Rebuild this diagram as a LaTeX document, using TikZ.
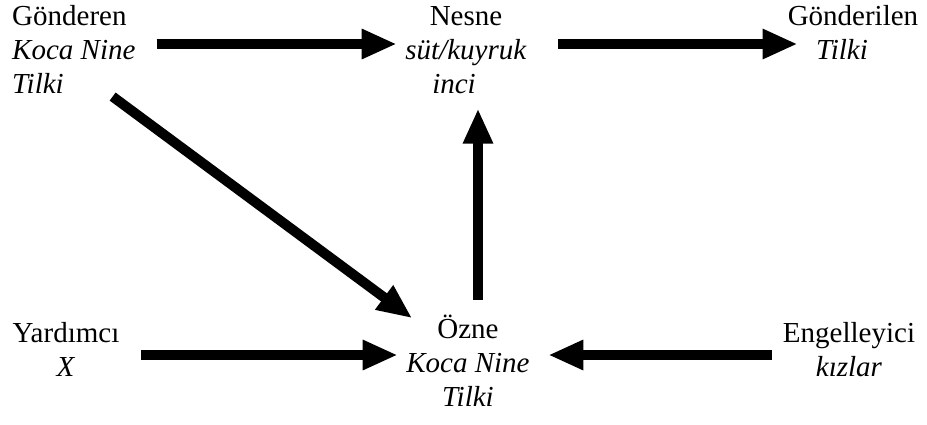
\documentclass[tikz,border=0pt]{standalone}
\usepackage{fontspec}
\setmainfont{Liberation Serif}
\usetikzlibrary{arrows.meta,calc}
\begin{document}
\begin{tikzpicture}[x=1pt,y=-1pt,
  lbl/.style={inner sep=0pt,font=\fontsize{29}{34}\selectfont},
  arr/.style={line width=10pt,-{Triangle[length=35pt,width=28pt]}}]
\useasboundingbox (0,0) rectangle (927,424);
\node[lbl,align=left,anchor=north west] (gon) at (12,1.2)
  {\strut Gönderen\\\textit{Koca Nine}\\\textit{Tilki}\strut};
\node[lbl,align=center,anchor=north] (nes) at (466,1.2)
  {\strut Nesne\\\textit{süt/kuyruk}\\\textit{inci}\hspace*{24pt}\strut};
\node[lbl,align=center,anchor=north] (gdl) at (853,1.2)
  {\strut Gönderilen\\\textit{Tilki}\hspace*{22pt}\strut};
\node[lbl,align=center,anchor=north] (yrd) at (66,318.2)
  {\strut Yardımcı\\\textit{X}\strut};
\node[lbl,align=center,anchor=north] (ozn) at (468,314.2)
  {\strut Özne\\\textit{Koca Nine}\\\textit{Tilki}\strut};
\node[lbl,align=center,anchor=north] (eng) at (849,318.2)
  {\strut Engelleyici\\\textit{kızlar}\strut};
\draw[arr,shorten <=21pt,shorten >=8.5pt] (gon.east |- 0,44) -- (nes.west |- 0,44);
\draw[arr,shorten <=31pt,shorten >=-10pt] (nes.east |- 0,44) -- (gdl.west |- 0,44);
\draw[arr] ($(gon.south east)+(-23,-7)$) -- ($(ozn.north west)+(6,4)$);
\coordinate (v) at ($(ozn.north)+(10,0)$);
\draw[arr,shorten <=14pt,shorten >=5pt] (v) -- (v |- nes.south);
\draw[arr,shorten <=21pt,shorten >=8.5pt] (yrd.east |- 0,355) -- (ozn.west |- 0,355);
\draw[arr,shorten <=11pt,shorten >=18.5pt] (eng.west |- 0,355) -- (ozn.east |- 0,355);
\end{tikzpicture}
\end{document}
